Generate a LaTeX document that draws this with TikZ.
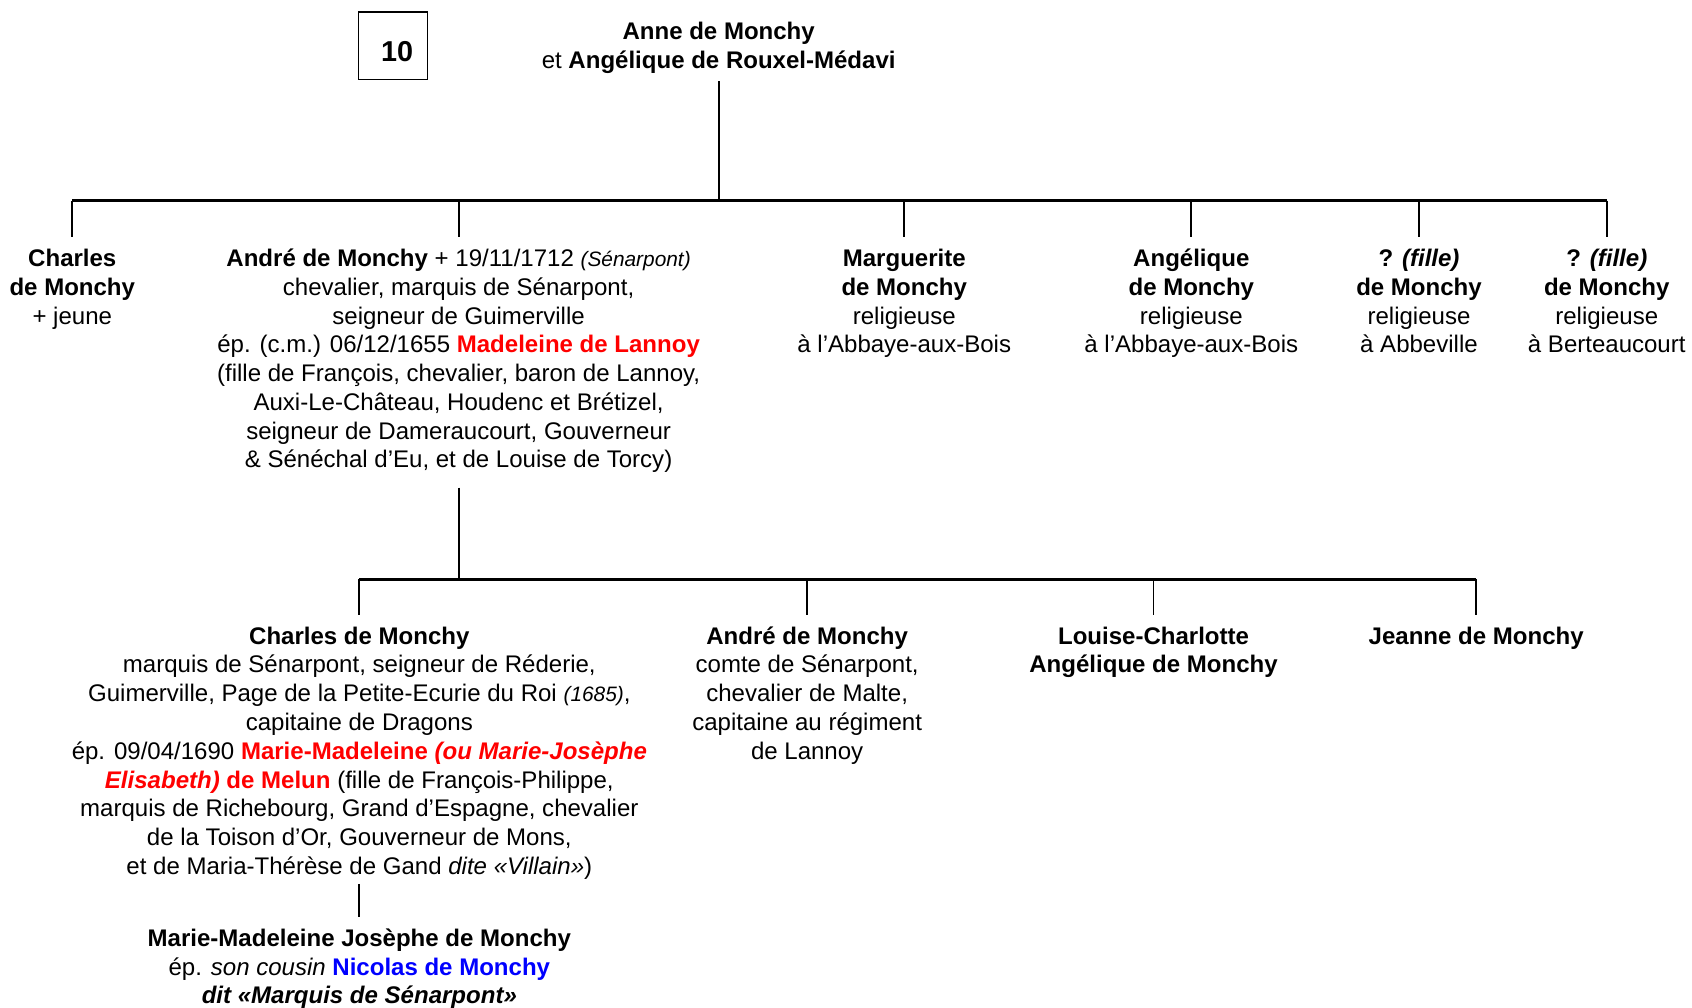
\documentclass[tikz,border=0pt]{standalone}
\usepackage{fontspec}
\setmainfont{Liberation Sans}
\usepackage{xcolor}
\newcommand{\fsmain}{\fontsize{16.7}{20}\selectfont}
\newcommand{\fssm}{\fontsize{14.5}{20}\selectfont}
\definecolor{nred}{RGB}{255,0,0}
\definecolor{nblue}{RGB}{0,0,255}
\begin{document}
\begin{tikzpicture}[x=0.75pt,y=-0.75pt,
  person/.style={align=center,inner sep=0pt,anchor=north,font=\fsmain},
  barline/.style={line width=1.8pt},
  dropline/.style={line width=1.3pt},
  numbox/.style={draw,line width=0.8pt,minimum width=48pt,minimum height=47pt,inner sep=0pt},
  numtext/.style={inner sep=0pt,font=\fontsize{20}{24}\selectfont\bfseries}]
\useasboundingbox (0,0) rectangle (1568,934);

% number box
\node[numbox] (num) at (364,42.5) {};
\node[numtext] (numt) at (368,48) {10};

% parents
\node[person] (par) at (666,18) {\strut\textbf{Anne de Monchy}\\et \textbf{Angélique de Rouxel-Médavi}};

\coordinate (bar1) at (666,186);
\coordinate (bar2) at (425,537);

% first generation
\node[person] (c1) at (67,228) {\strut\textbf{Charles}\\\textbf{de Monchy}\\+ jeune};
\node[person] (c2) at (425,228) {\strut\textbf{André de Monchy} + 19/11/1712 {\fssm\textit{(Sénarpont)}}\\
chevalier, marquis de Sénarpont,\\
seigneur de Guimerville\\
ép. (c.m.) 06/12/1655 \textcolor{nred}{\textbf{Madeleine de Lannoy}}\\
(fille de François, chevalier, baron de Lannoy,\\
Auxi-Le-Château, Houdenc et Brétizel,\\
seigneur de Dameraucourt, Gouverneur\\
\& Sénéchal d’Eu, et de Louise de Torcy)};
\node[person] (c3) at (838,228) {\strut\textbf{Marguerite}\\\textbf{de Monchy}\\religieuse\\à l’Abbaye-aux-Bois};
\node[person] (c4) at (1104,228) {\strut\textbf{Angélique}\\\textbf{de Monchy}\\religieuse\\à l’Abbaye-aux-Bois};
\node[person] (c5) at (1315,228) {\strut\textbf{? \textit{(fille)}}\\\textbf{de Monchy}\\religieuse\\à Abbeville};
\node[person] (c6) at (1489,228) {\strut\textbf{? \textit{(fille)}}\\\textbf{de Monchy}\\religieuse\\à Berteaucourt};

% second generation
\node[person] (d1) at (333,578) {\strut\textbf{Charles de Monchy}\\
marquis de Sénarpont, seigneur de Réderie,\\
Guimerville, Page de la Petite-Ecurie du Roi {\fssm\textit{(1685)}},\\
capitaine de Dragons\\
ép. 09/04/1690 \textcolor{nred}{\textbf{Marie-Madeleine \textit{(ou Marie-Josèphe}}}\\
\textcolor{nred}{\textbf{\textit{Elisabeth)} de Melun}} (fille de François-Philippe,\\
marquis de Richebourg, Grand d’Espagne, chevalier\\
de la Toison d’Or, Gouverneur de Mons,\\
et de Maria-Thérèse de Gand \textit{dite «Villain»})};
\node[person] (d2) at (748,578) {\strut\textbf{André de Monchy}\\comte de Sénarpont,\\chevalier de Malte,\\capitaine au régiment\\de Lannoy};
\node[person] (d3) at (1069,578) {\strut\textbf{Louise-Charlotte}\\\textbf{Angélique de Monchy}};
\node[person] (d4) at (1368,578) {\strut\textbf{Jeanne de Monchy}};

% third generation
\node[person] (e1) at (333,858) {\strut\textbf{Marie-Madeleine Josèphe de Monchy}\\
ép. \textit{son cousin} \textcolor{nblue}{\textbf{Nicolas de Monchy}}\\
\textbf{\textit{dit «Marquis de Sénarpont»}}};

% connectors generation 1
\draw[dropline] ([yshift=-5pt]par.south) -- (bar1);
\draw[barline] (c1.north |- bar1) -- (c6.north |- bar1);
\foreach \c in {c1,c2,c3,c4,c5,c6}
  \draw[dropline] (\c.north |- bar1) -- ([yshift=6pt]\c.north);

% connectors generation 2
\draw[dropline] ([yshift=-10pt]c2.south) -- (bar2);
\draw[barline] (d1.north |- bar2) -- (d4.north |- bar2);
\foreach \d in {d1,d2,d3,d4}
  \draw[dropline] (\d.north |- bar2) -- ([yshift=6pt]\d.north);

% connector generation 3
\draw[dropline] ([yshift=-3pt]d1.south) -- ([yshift=6pt]e1.north);
\end{tikzpicture}
\end{document}
